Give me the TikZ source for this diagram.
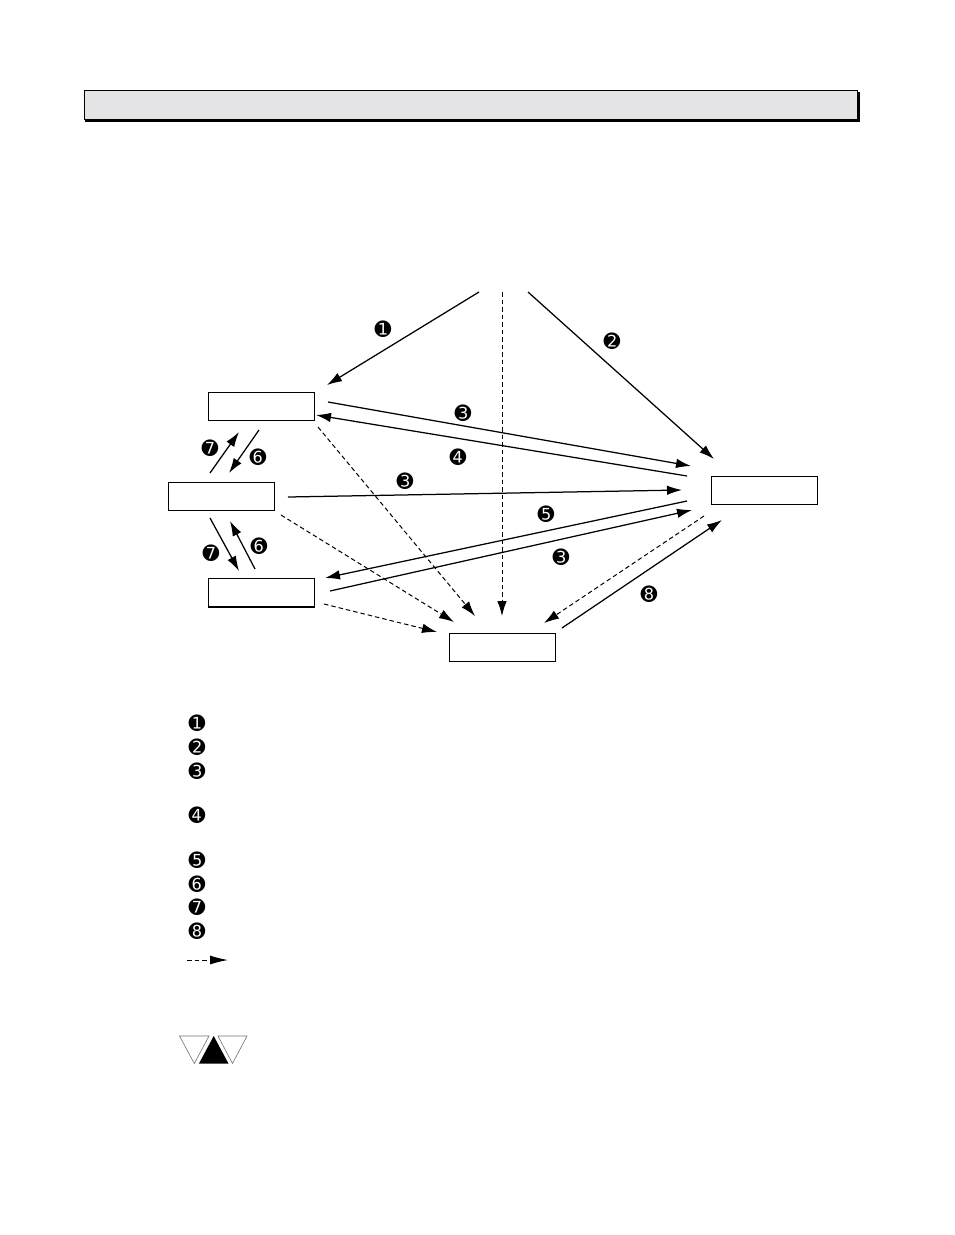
\documentclass[tikz,border=0pt]{standalone}
\usepackage{fontspec}
\newfontfamily\dingfont{DejaVu Sans}
\usetikzlibrary{arrows.meta}
\definecolor{headergray}{HTML}{E4E4E6}
\tikzset{
  state/.style={draw=black,line width=1.2pt,fill=white,minimum width=106pt,minimum height=28pt,inner sep=0pt,anchor=north west},
  solidarrow/.style={draw=black,line width=1.25pt,-{Latex[length=15pt,width=9.5pt]}},
  dasharrow/.style={draw=black,line width=1pt,dash pattern=on 4.5pt off 3pt,-{Latex[length=15pt,width=9.5pt]}},
  badge/.style={inner sep=0pt,yshift=-0.3pt,font=\dingfont\fontsize{20pt}{21pt}\selectfont},
  tri/.style={draw=black!55,line width=0.6pt,fill=white},
}
\begin{document}
\begin{tikzpicture}[x=1pt,y=-1pt]
\useasboundingbox (0,0) rectangle (954,1235);
\fill[white] (0,0) rectangle (954,1235);
% header bar
\fill[black] (85,92) rectangle (859.5,122);
\node[draw=black,line width=1.2pt,fill=headergray,anchor=north west,minimum width=773pt,minimum height=29pt,inner sep=0pt] (header) at (84,90) {};
% state boxes
\node[state] (upper) at (208,392) {};
\node[state] (middle) at (167.5,482) {};
\node[state] (lower) at (208,578) {};
\draw[black,line width=2pt] (lower.south west) -- (lower.south east);
\node[state] (right) at (711,476) {};
\node[state] (bottom) at (448.5,633) {};
% free connector ends
\coordinate (srcA) at (479,292);
\coordinate (srcB) at (528,292);
\coordinate (srcC) at (502,292);
\coordinate (a1) at (327,385);
\coordinate (a2) at (714,459);
\coordinate (c) at (502,616);
\coordinate (u3s) at (328,402);
\coordinate (u3e) at (691,466);
\coordinate (u4s) at (687,476);
\coordinate (u4e) at (316,415);
\coordinate (m3s) at (288,497);
\coordinate (m3e) at (682,490);
\coordinate (l5s) at (687,501);
\coordinate (l5e) at (325,578);
\coordinate (l3s) at (330,591);
\coordinate (l3e) at (692,510);
\coordinate (rds) at (704,516);
\coordinate (rde) at (544,623);
\coordinate (b8s) at (562,628);
\coordinate (b8e) at (722,520);
\coordinate (uds) at (318,427);
\coordinate (ude) at (475,616);
\coordinate (mds) at (281,515);
\coordinate (mde) at (454,622);
\coordinate (lds) at (324,604);
\coordinate (lde) at (437,632);
\coordinate (s7us) at (210,473);
\coordinate (s7ue) at (239,432);
\coordinate (s6us) at (259,430);
\coordinate (s6ue) at (229,473);
\coordinate (s7ls) at (210,518);
\coordinate (s7le) at (239,571);
\coordinate (s6ls) at (255,569);
\coordinate (s6le) at (230,521);
\coordinate (lgs) at (187,960);
\coordinate (lge) at (228,960);
% connectors
\draw[solidarrow] (srcA) -- (a1);
\draw[solidarrow] (srcB) -- (a2);
\draw[dasharrow] (srcC) -- (c);
\draw[solidarrow] (u3s) -- (u3e);
\draw[solidarrow] (u4s) -- (u4e);
\draw[solidarrow] (m3s) -- (m3e);
\draw[solidarrow] (l5s) -- (l5e);
\draw[solidarrow] (l3s) -- (l3e);
\draw[dasharrow] (rds) -- (rde);
\draw[solidarrow] (b8s) -- (b8e);
\draw[dasharrow] (uds) -- (ude);
\draw[dasharrow] (mds) -- (mde);
\draw[dasharrow] (lds) -- (lde);
\draw[solidarrow] (s7us) -- (s7ue);
\draw[solidarrow] (s6us) -- (s6ue);
\draw[solidarrow] (s7ls) -- (s7le);
\draw[solidarrow] (s6ls) -- (s6le);
\draw[dasharrow,-{Latex[length=18pt,width=9pt]}] (lgs) -- (lge);
% diagram badges
\node[badge] (b1) at (383,329) {➊};
\node[badge] (b2) at (612,341) {➋};
\node[badge] (b3a) at (463,413) {➌};
\node[badge] (b4) at (458,457) {➍};
\node[badge] (b3b) at (405,481) {➌};
\node[badge] (b5) at (546,514) {➎};
\node[badge] (b3c) at (561,557) {➌};
\node[badge] (b8) at (649,594) {➑};
\node[badge] (b7a) at (210,448) {➐};
\node[badge] (b6a) at (258,457) {➏};
\node[badge] (b7b) at (211,553) {➐};
\node[badge] (b6b) at (259,546) {➏};
% legend badges
\node[badge] (k1) at (197,723) {➊};
\node[badge] (k2) at (197,747) {➋};
\node[badge] (k3) at (197,771) {➌};
\node[badge] (k4) at (197,815) {➍};
\node[badge] (k5) at (197,860) {➎};
\node[badge] (k6) at (197,884) {➏};
\node[badge] (k7) at (197,907) {➐};
\node[badge] (k8) at (197,931) {➑};
% warning triangles
\draw[tri] (179.5,1036) -- (209,1036) -- (194.3,1063.5) -- cycle;
\draw[tri] (218,1036) -- (247,1036) -- (232.5,1063.5) -- cycle;
\fill[black] (199,1063.5) -- (228.5,1063.5) -- (213.7,1036) -- cycle;
\end{tikzpicture}
\end{document}
